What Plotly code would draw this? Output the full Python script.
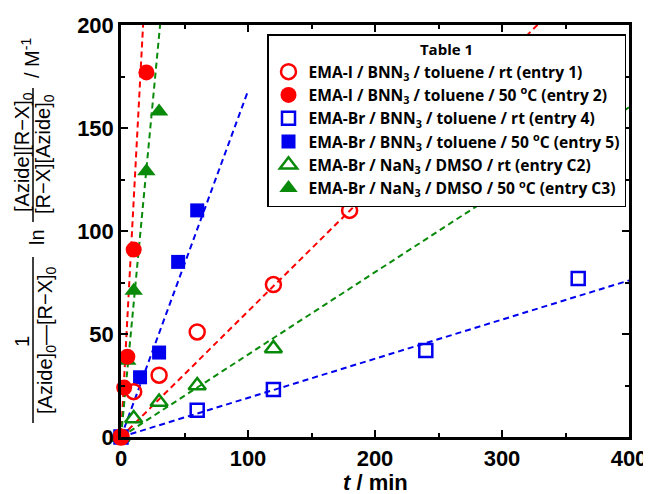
import plotly.graph_objects as go

# ---- data ----
t_e1 = [0, 10, 30, 60, 120, 180]
y_e1 = [0, 22, 30, 51, 74, 110]
t_e2 = [0, 2.5, 5, 10, 20]
y_e2 = [0, 24, 39, 91, 177]
t_e4 = [0, 60, 120, 240, 360]
y_e4 = [0, 13, 23, 42, 77]
t_e5 = [0, 15, 30, 45, 60]
y_e5 = [0, 29, 41, 85, 110]
t_c2 = [0, 10, 30, 60, 120]
y_c2 = [0, 9, 17, 25, 43]
t_c3 = [0, 5, 10, 20, 30]
y_c3 = [0, 37, 71, 129, 158]

# fitted slopes (M^-1 min^-1) of dashed lines through origin, and the t extent of each fit line
slopes = [0.61, 11.5, 0.19, 1.68, 0.40, 6.5]
fit_end = [400, 400, 400, 100, 400, 400]

names = [
    "EMA-I / BNN<sub>3</sub> / toluene / rt (entry 1)",
    "EMA-I / BNN<sub>3</sub> / toluene / 50 <sup>o</sup>C (entry 2)",
    "EMA-Br / BNN<sub>3</sub> / toluene / rt (entry 4)",
    "EMA-Br / BNN<sub>3</sub> / toluene / 50 <sup>o</sup>C (entry 5)",
    "EMA-Br / NaN<sub>3</sub> / DMSO / rt (entry C2)",
    "EMA-Br / NaN<sub>3</sub> / DMSO / 50 <sup>o</sup>C (entry C3)",
]

RED = "#FF0000"
BLUE = "#0000EE"
GREEN = "#0A8A0A"

series = [
    (t_e1, y_e1, RED, "circle-open", 15),
    (t_e2, y_e2, RED, "circle", 16),
    (t_e4, y_e4, BLUE, "square-open", 13),
    (t_e5, y_e5, BLUE, "square", 14),
    (t_c2, y_c2, GREEN, "triangle-up-open", 15),
    (t_c3, y_c3, GREEN, "triangle-up", 16),
]

FONT = "Liberation Sans, Arial, sans-serif"
LFONT = "Open Sans, Liberation Sans, Arial, sans-serif"
fig = go.Figure()

# dashed fit lines
for (tx, ty, col, sym, sz), k, te in zip(series, slopes, fit_end):
    fig.add_trace(go.Scatter(
        x=[0, te], y=[0, k * te], mode="lines",
        line=dict(color=col, width=2, dash="6px,4px"),
        showlegend=False, hoverinfo="skip"))

# markers (drawing order: green, blue, red on top), legend order by rank
draw_order = [4, 5, 2, 3, 0, 1]
for i in draw_order:
    tx, ty, col, sym, sz = series[i]
    open_ = sym.endswith("open")
    fig.add_trace(go.Scatter(
        x=tx, y=ty, mode="markers", name=names[i], legendrank=i + 1,
        cliponaxis=False,
        marker=dict(symbol=sym, size=sz, color=col,
                    line=dict(color=col, width=2.5 if open_ else 0))))

axis_common = dict(
    showline=True, linecolor="black", linewidth=2.5, mirror="ticks",
    ticks="inside", ticklen=7, tickwidth=2, tickcolor="black",
    showgrid=False, zeroline=False, automargin=False,
    tickfont=dict(family=FONT, size=22, color="black", weight="bold"),
)
fig.update_xaxes(range=[0, 400], dtick=100, tick0=0,
                 minor=dict(dtick=50, ticks="inside", ticklen=4, tickwidth=2, tickcolor="black"),
                 **axis_common)
fig.update_yaxes(range=[0, 200], dtick=50, tick0=0,
                 minor=dict(dtick=25, ticks="inside", ticklen=4, tickwidth=2, tickcolor="black"),
                 **axis_common)

# page body has an 8px margin: figure drawn at (8, 8) in the window
OFF = 8
W, H = 651 - OFF, 494 - OFF
# desired plot area in window pixels: x 121..629, y 25..437
X0, X1, Y0, Y1 = 121, 629, 25, 437
L, R, T, B = X0 - OFF, W - (X1 - OFF), Y0 - OFF, H - (Y1 - OFF)
PW, PH = X1 - X0, Y1 - Y0


def px(x):
    return (x - X0) / PW


def py(y):
    return (Y1 - y) / PH


ann = []


def rot(text, x, y, size=20):
    ann.append(dict(text=text, x=px(x), y=py(y), xref="paper", yref="paper",
                    showarrow=False, textangle=-90, xanchor="center", yanchor="middle",
                    font=dict(family=FONT, size=size, color="black")))


rot("1", 22, 342)
rot("[Azide]<sub>0</sub>—[R−X]<sub>0</sub>", 46, 340)
rot("ln", 37, 237)
rot("[Azide][R−X]<sub>0</sub>", 23, 152)
rot("[R−X][Azide]<sub>0</sub>", 44, 154)
rot("/ M<sup>-1</sup>", 31, 58)

ann.append(dict(text="<b><i>t</i> / min</b>", x=0.5, y=py(482), xref="paper", yref="paper",
                showarrow=False, xanchor="center", yanchor="middle",
                font=dict(family=FONT, size=22, color="black")))

shapes = [
    dict(type="line", xref="paper", yref="paper", x0=px(33), x1=px(33), y0=py(257), y1=py(423),
         line=dict(color="black", width=1.5)),
    dict(type="line", xref="paper", yref="paper", x0=px(33), x1=px(33), y0=py(88), y1=py(222),
         line=dict(color="black", width=1.5)),
]

fig.update_layout(
    width=W, height=H, autosize=False,
    margin=dict(l=L, r=R, t=T, b=B, autoexpand=False),
    plot_bgcolor="white", paper_bgcolor="white",
    font=dict(family=FONT, color="black"),
    annotations=ann, shapes=shapes,
    legend=dict(
        x=px(626), y=py(34), xanchor="right", yanchor="top",
        bgcolor="white", bordercolor="black", borderwidth=1.5,
        font=dict(family=LFONT, size=15.6, color="black", weight="bold"),
        title=dict(text="Table 1", side="top center",
                   font=dict(family=LFONT, size=15, color="black", weight="bold")),
        traceorder="normal", tracegroupgap=0, itemwidth=30,
    ),
)

fig.write_html("out.html")
